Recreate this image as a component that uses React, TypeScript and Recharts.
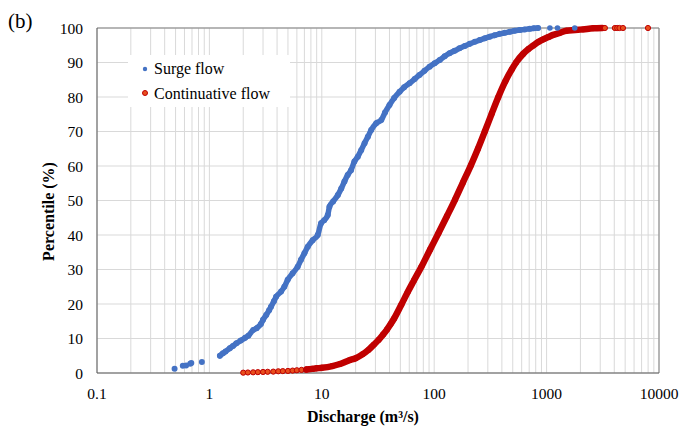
import React from 'react';
import { ScatterChart, Scatter, XAxis, YAxis, CartesianGrid, Legend, ReferenceLine, Label } from 'recharts';

// ---- Data ----
const xTicks = [0.1, 1, 10, 100, 1000, 10000];
const yTicks = [0, 10, 20, 30, 40, 50, 60, 70, 80, 90, 100];
const minorSteps = [2, 3, 4, 5, 6, 7, 8, 9];
const seriesNames = ['Surge flow', 'Continuative flow'];

// Surge flow: isolated points at the low end
const surgeLowQ = [0.49, 0.58, 0.62, 0.675, 0.69, 0.857];
const surgeLowP = [1.2, 2.1, 2.2, 2.7, 2.9, 3.2];
// Surge flow: continuous chain of points
const surgeHighQ = [1.24, 1.32, 1.39, 1.52, 1.62, 1.74, 1.9, 2.08, 2.22, 2.46, 2.63, 2.87, 3.0, 3.2, 3.4, 3.53, 3.75, 3.92, 4.34, 4.64, 4.97, 5.5, 6.1, 6.53, 7.0, 7.5, 8.3, 9.2, 9.85, 10.5, 11.3, 11.7, 12.6, 13.9, 14.9, 15.9, 17.0, 18.2, 19.5, 20.9, 22.4, 24.0, 25.7, 27.5, 30.5, 33.8, 36.5, 40, 44, 49.2, 54, 60.4, 67, 74, 82, 91, 101, 112, 124, 137, 152, 168, 187, 207, 230, 254, 282, 312, 345, 383, 425, 470, 520, 577, 640, 708, 770, 840];
const surgeHighP = [5.0, 5.7, 6.2, 7.2, 7.8, 8.6, 9.4, 10.2, 10.8, 12.5, 13.0, 14.2, 15.4, 16.8, 18.2, 19.2, 20.8, 22.1, 23.6, 25.0, 27.0, 28.9, 30.8, 32.8, 34.7, 36.6, 38.5, 40.0, 43.4, 44.3, 45.8, 48.2, 49.7, 51.6, 53.5, 55.5, 57.4, 58.8, 61.3, 62.7, 64.6, 66.6, 68.5, 70.4, 72.4, 73.3, 75.5, 77.7, 79.7, 81.5, 82.8, 84.0, 85.2, 86.4, 87.6, 88.8, 89.8, 90.7, 91.8, 92.7, 93.4, 94.1, 94.8, 95.4, 96.0, 96.5, 97.0, 97.5, 97.9, 98.3, 98.6, 98.9, 99.2, 99.4, 99.6, 99.8, 99.9, 100];
const surgeTailQ = [1070, 1250, 1780];
const surgeTailP = [100, 100, 100];

// Continuative flow
const contLowQ = [2.0, 2.2, 2.45, 2.7, 3.0, 3.3, 3.7, 4.1, 4.5, 5.0, 5.5, 6.0, 6.6, 7.3];
const contLowP = [0.1, 0.15, 0.2, 0.25, 0.3, 0.35, 0.4, 0.5, 0.55, 0.6, 0.7, 0.8, 0.9, 1.0];
const contMainQ = [7.3, 8.2, 9, 10, 12.4, 14.5, 17.6, 20, 23, 26, 29, 32, 35, 38, 41, 44, 51, 58, 66, 77, 92, 109, 130, 153, 180, 212, 245, 282, 325, 372, 430, 490, 535, 618, 690, 759, 850, 931, 1040, 1143, 1312, 1500, 1800, 2110, 2600, 3130];
const contMainP = [1.0, 1.2, 1.35, 1.5, 2.0, 2.6, 3.7, 4.3, 5.4, 6.7, 8.2, 9.6, 11.1, 12.6, 14.2, 15.8, 19.8, 23.4, 26.8, 30.8, 35.8, 40.5, 45.5, 50.2, 55.2, 60.2, 65.0, 70.0, 75.2, 80.0, 84.6, 88.0, 90.0, 92.5, 93.9, 94.9, 96.0, 96.7, 97.4, 98.0, 98.6, 99.2, 99.4, 99.6, 99.9, 100];
const contTailQ = [3300, 4050, 4250, 4450, 4780, 7980];
const contTailP = [100, 100, 100, 100, 100, 100];

const zip = (q: number[], p: number[]) => q.map((v, i) => ({ q: v, p: p[i] }));

const surgeLow = zip(surgeLowQ, surgeLowP);
const surgeHigh = zip(surgeHighQ, surgeHighP);
const surgeTail = zip(surgeTailQ, surgeTailP);
const contLow = zip(contLowQ, contLowP);
const contMain = zip(contMainQ, contMainP);
const contTail = zip(contTailQ, contTailP);

const gridX: number[] = [];
xTicks.forEach((d, i) => {
  gridX.push(d);
  if (i < xTicks.length - 1) minorSteps.forEach((m) => gridX.push(Number((d * m).toPrecision(3))));
});

const BLUE = '#4472C4';
const DARKRED = '#C00000';
const ORANGE = '#E8501E';
const FONT = '"Liberation Serif", "Times New Roman", Times, serif';

const blueDot = (r: number) => (props: any) => (
  <circle cx={props.cx} cy={props.cy} r={r} fill={BLUE} />
);
const redDot = (props: any) => (
  <circle cx={props.cx} cy={props.cy} r={2.6} fill={ORANGE} stroke={DARKRED} strokeWidth={1} />
);
const redSolid = (props: any) => <circle cx={props.cx} cy={props.cy} r={3} fill={DARKRED} />;

const LegendBox = () => (
  <svg width={162} height={52} style={{ display: 'block', background: '#fff' }}>
    <circle cx={17} cy={14} r={2.2} fill={BLUE} />
    <text x={26} y={19} style={{ fontFamily: FONT }} fontSize={16} fill="#000">{seriesNames[0]}</text>
    <circle cx={17} cy={38} r={2.5} fill={ORANGE} stroke={DARKRED} strokeWidth={1} />
    <text x={26} y={44} style={{ fontFamily: FONT }} fontSize={16} fill="#000">{seriesNames[1]}</text>
  </svg>
);

const tickStyle = { fill: '#000', fontSize: 15.5, fontFamily: FONT };

export default function App() {
  return (
    <div style={{ position: 'absolute', left: 0, top: 0, width: 683, height: 429, background: '#fff', fontFamily: FONT }}>
      <svg width={40} height={36} style={{ position: 'absolute', left: 0, top: 0 }}>
        <text x={8} y={28} style={{ fontFamily: FONT }} fontSize={21} fill="#000">(b)</text>
      </svg>
      <ScatterChart width={683} height={429} margin={{ top: 28, right: 24, bottom: 0, left: 0 }} style={{ fontFamily: FONT }}>
        <CartesianGrid stroke="#d9d9d9" strokeWidth={1} verticalValues={gridX} horizontalValues={yTicks} />
        <XAxis
          dataKey="q"
          type="number"
          scale="log"
          domain={[0.1, 10000]}
          ticks={xTicks}
          allowDataOverflow
          height={56}
          tickLine={false}
          tickMargin={9}
          axisLine={{ stroke: '#595959', strokeWidth: 1 }}
          tick={tickStyle}
          interval={0}
        >
          <Label
            value="Discharge (m³/s)"
            position="insideBottom"
            offset={7}
            dx={-15}
            fontSize={16}
            fontWeight="bold"
            fontFamily={FONT}
            fill="#000"
          />
        </XAxis>
        <YAxis
          dataKey="p"
          type="number"
          domain={[0, 100]}
          ticks={yTicks}
          width={97}
          tickLine={false}
          tickMargin={8}
          axisLine={{ stroke: '#595959', strokeWidth: 1 }}
          tick={tickStyle}
          interval={0}
        >
          <Label
            content={(props: any) => {
              const vb = props.viewBox || { x: 0, y: 28, width: 97, height: 345 };
              const cx = vb.x + vb.width / 2;
              const cy = vb.y + vb.height / 2 + 11;
              return (
                <text
                  x={cx}
                  y={cy}
                  transform={`rotate(-90 ${cx} ${cy})`}
                  textAnchor="middle"
                  dominantBaseline="central"
                  style={{ fontFamily: FONT }}
                  fontSize={16}
                  fontWeight="bold"
                  fill="#000"
                >
                  Percentile (%)
                </text>
              );
            }}
          />
        </YAxis>
        <ReferenceLine y={100} stroke="#808080" strokeWidth={1} />
        <ReferenceLine x={10000} stroke="#808080" strokeWidth={1} />
        <Legend
          layout="vertical"
          align="center"
          verticalAlign="middle"
          wrapperStyle={{ left: 128, top: 55, width: 162, height: 52 }}
          content={() => <LegendBox />}
        />
        <Scatter name={seriesNames[1]} data={contLow} shape={redDot} isAnimationActive={false} legendType="circle" />
        <Scatter
          name="cont-main"
          data={contMain}
          shape={redSolid}
          line={{ stroke: DARKRED, strokeWidth: 6.5, strokeLinejoin: 'round', strokeLinecap: 'round' }}
          lineJointType="monotoneX"
          isAnimationActive={false}
          legendType="none"
        />
        <Scatter name="cont-tail" data={contTail} shape={redDot} isAnimationActive={false} legendType="none" />
        <Scatter name={seriesNames[0]} data={surgeLow} shape={blueDot(3)} isAnimationActive={false} legendType="circle" />
        <Scatter
          name="surge-high"
          data={surgeHigh}
          shape={blueDot(3)}
          line={{ stroke: BLUE, strokeWidth: 5.5, strokeLinejoin: 'round', strokeLinecap: 'round' }}
          lineJointType="monotoneX"
          isAnimationActive={false}
          legendType="none"
        />
        <Scatter name="surge-tail" data={surgeTail} shape={blueDot(2.8)} isAnimationActive={false} legendType="none" />
      </ScatterChart>
    </div>
  );
}
